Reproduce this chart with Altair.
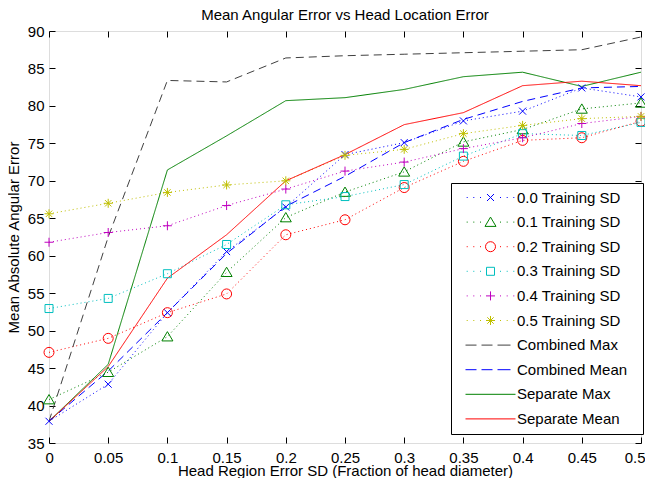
import altair as alt
import pandas as pd

# ---------------- data ----------------
x_vals = [0, 0.05, 0.1, 0.15, 0.2, 0.25, 0.3, 0.35, 0.4, 0.45, 0.5]

sd00 = [37.9, 42.85, 52.4, 60.55, 66.5, 73.5, 75.1, 78.0, 79.3, 82.4, 81.2]
sd01 = [40.8, 44.45, 49.2, 57.8, 65.1, 68.5, 71.2, 75.2, 76.85, 79.6, 80.4]
sd02 = [47.1, 48.97, 52.4, 54.9, 62.8, 64.8, 69.1, 72.6, 75.4, 75.75, 77.95]
sd03 = [52.95, 54.3, 57.6, 61.5, 66.8, 67.9, 69.5, 73.3, 76.3, 76.05, 77.8]
sd04 = [61.8, 63.1, 64.0, 66.7, 68.9, 71.3, 72.5, 74.3, 75.75, 77.65, 78.6]
sd05 = [65.6, 67.0, 68.45, 69.45, 70.0, 73.4, 74.2, 76.3, 77.4, 78.3, 78.6]
comb_max = [37.9, 62.5, 83.4, 83.2, 86.4, 86.7, 86.9, 87.1, 87.3, 87.5, 89.2]
comb_mean = [37.9, 44.6, 52.4, 60.3, 66.6, 70.6, 75.1, 78.2, 80.6, 82.4, 82.6]
sep_max = [37.9, 45.5, 71.45, 76.0, 80.7, 81.1, 82.2, 83.9, 84.5, 82.6, 84.5]
sep_mean = [37.9, 45.2, 57.0, 62.8, 70.0, 73.5, 77.5, 79.1, 82.7, 83.3, 82.7]

training_names = ["0.0 Training SD", "0.1 Training SD", "0.2 Training SD",
                  "0.3 Training SD", "0.4 Training SD", "0.5 Training SD"]
summary_names = ["Combined Max", "Combined Mean", "Separate Max", "Separate Mean"]
series_names = training_names + summary_names
series_values = [sd00, sd01, sd02, sd03, sd04, sd05, comb_max, comb_mean, sep_max, sep_mean]

x_ticks = [0, 0.05, 0.1, 0.15, 0.2, 0.25, 0.3, 0.35, 0.4, 0.45, 0.5]
y_ticks = [35, 40, 45, 50, 55, 60, 65, 70, 75, 80, 85, 90]

rows = []
for name, vals in zip(series_names, series_values):
    for xv, yv in zip(x_vals, vals):
        rows.append({"series": name, "x": xv, "y": yv})
df = pd.DataFrame(rows)
marker_df = df[df["series"].isin(training_names)]

# ---------------- styles ----------------
FONT = "Liberation Sans"
colors = ["#0000ff", "#008000", "#ff0000", "#00bfbf", "#bf00bf", "#bfbf00",
          "#404040", "#0000ff", "#008000", "#ff0000"]
dashes = [[1, 3]] * 6 + [[8, 5], [8, 5], [1, 0], [1, 0]]


def m_x(cx, h=3.5):
    return f"M{cx-h},{-h}L{cx+h},{h}M{cx-h},{h}L{cx+h},{-h}"


def m_tri(cx):
    return f"M{cx},-5L{cx+5.5},4.3L{cx-5.5},4.3Z"


def m_circle(cx, r=5):
    return f"M{cx+r},0A{r},{r} 0 1,1 {cx-r},0A{r},{r} 0 1,1 {cx+r},0Z"


def m_square(cx, h=4):
    return f"M{cx-h},{-h}H{cx+h}V{h}H{cx-h}Z"


def m_plus(cx, h=4.5):
    return f"M{cx-h},0H{cx+h}M{cx},{-h}V{h}"


def m_star(cx, h=4.5, d=3.2):
    return (f"M{cx-h},0H{cx+h}M{cx},{-h}V{h}"
            f"M{cx-d},{-d}L{cx+d},{d}M{cx-d},{d}L{cx+d},{-d}")


marker_funcs = [m_x, m_tri, m_circle, m_square, m_plus, m_star]
marker_paths = [f(0) for f in marker_funcs]

EXTEND = "M168,0"
dots = "".join(f"M{d-0.5},0h1" for d in [1.7, 8.3, 15, 35, 41.7, 48.3])
legend_paths = [dots + f(25) + EXTEND for f in marker_funcs]
dash_sample = "M0,0H11M16,0H27M32,0H45" + EXTEND
solid_sample = "M0,0H50" + EXTEND
legend_paths += [dash_sample, dash_sample, solid_sample, solid_sample]

x_scale = alt.Scale(domain=[0, 0.5], nice=False, zero=False)
y_scale = alt.Scale(domain=[35, 90], nice=False, zero=False)
color_scale = alt.Scale(domain=series_names, range=colors)

axis_common = dict(labelFont=FONT, labelFontSize=15, titleFont=FONT, titleFontSize=15,
                   titleFontWeight="normal", labelColor="black", titleColor="black",
                   tickColor="black", tickSize=6, offset=-6, domain=False, grid=False,
                   tickWidth=1)

x_axis_bottom = alt.Axis(orient="bottom", values=x_ticks, format="~g", labelPadding=7,
                         title="Head Region Error SD (Fraction of head diameter)",
                         titlePadding=-2, labelFlush=True, labelFlushOffset=4, **axis_common)
y_axis_left = alt.Axis(orient="left", values=y_ticks, format="d", labelPadding=5,
                       title="Mean Absolute Angular Error", titlePadding=6, **axis_common)
x_axis_top = alt.Axis(orient="top", values=x_ticks, labels=False, title=None, **axis_common)
y_axis_right = alt.Axis(orient="right", values=y_ticks, labels=False, title=None, **axis_common)

lines = alt.Chart(df).mark_line(strokeWidth=1, clip=True).encode(
    x=alt.X("x:Q", scale=x_scale, axis=x_axis_bottom),
    y=alt.Y("y:Q", scale=y_scale, axis=y_axis_left),
    color=alt.Color("series:N", scale=color_scale, legend=None),
    strokeDash=alt.StrokeDash("series:N", scale=alt.Scale(domain=series_names, range=dashes),
                              legend=None),
    order="x:Q",
)

points = alt.Chart(marker_df).mark_point(filled=False, strokeWidth=1, size=4, opacity=1).encode(
    x=alt.X("x:Q", scale=x_scale, axis=None),
    y=alt.Y("y:Q", scale=y_scale, axis=None),
    color=alt.Color("series:N", scale=color_scale, legend=None),
    shape=alt.Shape("series:N", scale=alt.Scale(domain=training_names, range=marker_paths),
                    legend=None),
)

legend_kw = dict(orient="none", legendX=402, legendY=152, title=None, fillColor="white",
                 strokeColor="black", padding=7, symbolSize=4, symbolStrokeWidth=1,
                 symbolStrokeColor=alt.ExprRef(expr="scale('color', datum.value)"),
                 symbolFillColor="transparent",
                 labelFont=FONT, labelFontSize=15, labelColor="black", labelOffset=44,
                 rowPadding=8.6, cornerRadius=0, symbolOpacity=1, labelLimit=300)

legend_layer = alt.Chart(df).mark_point(filled=False, opacity=0, strokeWidth=1).encode(
    x=alt.X("x:Q", scale=x_scale, axis=x_axis_top),
    y=alt.Y("y:Q", scale=y_scale, axis=y_axis_right),
    color=alt.Color("series:N", scale=color_scale, legend=None),
    shape=alt.Shape("series:N", scale=alt.Scale(domain=series_names, range=legend_paths),
                    legend=alt.Legend(**legend_kw)),
)

chart = alt.layer(lines, points, legend_layer).resolve_scale(
    shape="independent"
).resolve_axis(
    x="independent", y="independent"
).properties(
    width=592, height=412,
    title=alt.TitleParams("Mean Angular Error vs Head Location Error", font=FONT, fontSize=15,
                          fontWeight="normal", color="black", anchor="middle", offset=1),
    autosize=alt.AutoSizeParams(type="none"),
    padding={"left": 41, "top": 23, "right": 4, "bottom": 35},
).configure_view(stroke="black", strokeWidth=1).configure(background="white")

chart.save("out.html", embed_options={"renderer": "svg", "actions": False})
